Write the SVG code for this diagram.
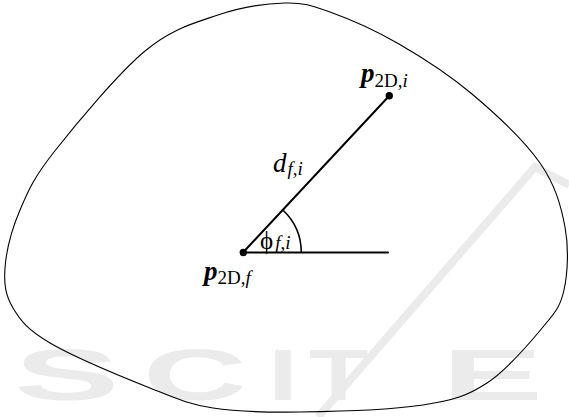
<svg xmlns="http://www.w3.org/2000/svg" width="569" height="417" viewBox="0 0 569 417">
<style>
  .wm { font-family: "Liberation Sans", Arial, sans-serif; font-weight: bold; font-size: 72px; fill: #ebebeb; }
  .blob { fill: none; stroke: #000; stroke-width: 1.1; }
  .ln { fill: none; stroke: #000; stroke-width: 2; stroke-linecap: round; }
  .arc { fill: none; stroke: #000; stroke-width: 1.6; }
  .dot { fill: #000; }
  .t { font-family: "Liberation Serif", "Times New Roman", "DejaVu Serif", serif; fill: #000; }
  .bp { font-weight: bold; font-style: italic; font-size: 27px; }
  .sub { font-size: 19px; }
  .it { font-style: italic; }
</style>
<g id="watermark">
  <polyline points="318,417 535,167 569,185" fill="none" stroke="#ebebeb" stroke-width="8"/>
  <text class="wm" transform="translate(14,400) scale(2.2,1)">S</text>
  <text class="wm" transform="translate(143,400) scale(2.0,1)">C</text>
  <text class="wm" transform="translate(268,400) scale(1.5,1)">I</text>
  <text class="wm" transform="translate(309,400) scale(1.35,1)">T</text>
  <text class="wm" transform="translate(442,400) scale(2.1,1)">E</text>
</g>
<g id="region">
  <path class="blob" d="M285,3 C303.7,2.5 311,5.2 330,12 C349,18.8 375.3,30.3 399,44 C422.7,57.7 448.5,74.2 472,94 C495.5,113.8 524.5,140.8 540,163 C555.5,185.2 561,205.8 565,227 C569,248.2 567.7,273.3 564,290 C560.3,306.7 555.8,311.5 543,327 C530.2,342.5 507,370 487,383 C467,396 454.2,400.2 423,405 C391.8,409.8 335,411.5 300,412 C265,412.5 238,412 213,408 C188,404 177.2,398.8 150,388 C122.8,377.2 72.8,356.3 50,343 C27.2,329.7 20.5,320.5 13,308 C5.5,295.5 3.8,284.3 5,268 C6.2,251.7 11.8,229.3 20,210 C28.2,190.7 33.2,178.5 54,152 C74.8,125.5 117.7,73.8 145,51 C172.3,28.2 194.7,23 218,15 C241.3,7 266.3,3.5 285,3 Z"/>
</g>
<g id="connectors">
  <line class="ln" x1="243" y1="252.5" x2="388" y2="252.5"/>
  <line class="ln" x1="243" y1="252.5" x2="389.3" y2="95.7"/>
  <path class="arc" d="M301.3,252.5 A58.3,58.3 0 0 0 282.8,210"/>
</g>
<g id="p2Di">
  <circle class="dot" cx="389.3" cy="95.7" r="3.7"/>
  <text class="t" x="361" y="82"><tspan class="bp">p</tspan><tspan class="sub" dy="5">2D,</tspan><tspan class="sub it">i</tspan></text>
</g>
<g id="p2Df">
  <circle class="dot" cx="243.3" cy="252.5" r="3.7"/>
  <text class="t" x="204" y="280"><tspan class="bp">p</tspan><tspan class="sub" dy="4">2D,</tspan><tspan class="sub it">f</tspan></text>
</g>
<g id="labels">
  <text class="t" x="273" y="172"><tspan class="it" font-size="27">d</tspan><tspan class="sub it" dy="3" dx="1">f</tspan><tspan class="sub">,</tspan><tspan class="sub it">i</tspan></text>
  <text class="t" x="260" y="249"><tspan font-size="25">ϕ</tspan><tspan class="sub it" dx="2">f</tspan><tspan class="sub">,</tspan><tspan class="sub it">i</tspan></text>
</g>
</svg>
